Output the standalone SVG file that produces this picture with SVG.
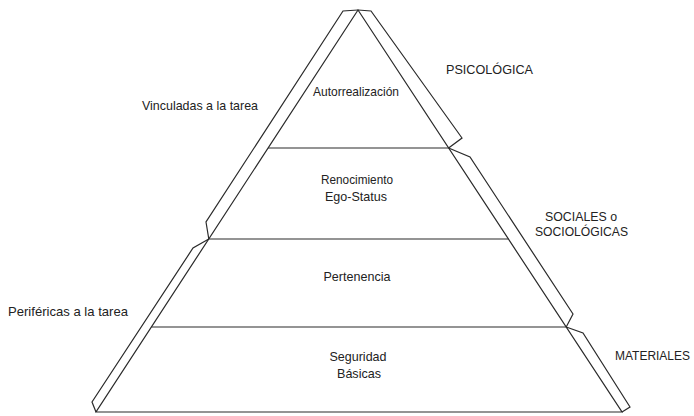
<svg xmlns="http://www.w3.org/2000/svg" width="694" height="416" viewBox="0 0 694 416">
<style>
.ln{fill:none;stroke:#2a2a2a;stroke-width:1.2;stroke-linejoin:miter}
.t{font-family:"Liberation Sans",Arial,sans-serif;font-size:13.5px;fill:#222}
.c{text-anchor:middle}
</style>
<rect width="694" height="416" fill="#fff"/>
<g id="pyramid">
<path class="ln" d="M358,10 L96,412 L622,412 Z"/>
</g>
<g id="connectors">
<line class="ln" x1="268.1" y1="148" x2="448.6" y2="148"/>
<line class="ln" x1="208.8" y1="239" x2="508.4" y2="239"/>
<line class="ln" x1="151.4" y1="327" x2="566.2" y2="327"/>
<path class="ln" d="M358,10 L343,11 L206,222 L208.8,239"/>
<path class="ln" d="M208.8,239 L193,248 L92,402 L96,412"/>
<path class="ln" d="M358,10 L371,11 L462,138 L448.6,148"/>
<path class="ln" d="M448.6,148 L470,157 L573,314 L566.2,327"/>
<path class="ln" d="M566.2,327 L583,333 L630,407 L622,412"/>
</g>
<g id="level-autorrealizacion">
<text class="t c" x="356" y="96" textLength="86" lengthAdjust="spacingAndGlyphs">Autorrealización</text>
</g>
<g id="level-ego">
<text class="t c" x="357" y="184" textLength="72" lengthAdjust="spacingAndGlyphs">Renocimiento</text>
<text class="t c" x="356" y="201" textLength="62" lengthAdjust="spacingAndGlyphs">Ego-Status</text>
</g>
<g id="level-pertenencia">
<text class="t c" x="357" y="281" textLength="67" lengthAdjust="spacingAndGlyphs">Pertenencia</text>
</g>
<g id="level-seguridad">
<text class="t c" x="358" y="361" textLength="57" lengthAdjust="spacingAndGlyphs">Seguridad</text>
<text class="t c" x="359" y="378" textLength="44" lengthAdjust="spacingAndGlyphs">Básicas</text>
</g>
<g id="label-vinculadas">
<text class="t" x="142" y="110" textLength="116" lengthAdjust="spacingAndGlyphs">Vinculadas a la tarea</text>
</g>
<g id="label-perifericas">
<text class="t" x="8" y="316" textLength="120" lengthAdjust="spacingAndGlyphs">Periféricas a la tarea</text>
</g>
<g id="label-psicologica">
<text class="t" x="446" y="74" textLength="87" lengthAdjust="spacingAndGlyphs">PSICOLÓGICA</text>
</g>
<g id="label-sociales">
<text class="t c" x="581" y="221" textLength="72" lengthAdjust="spacingAndGlyphs">SOCIALES o</text>
<text class="t c" x="581.5" y="236" textLength="93" lengthAdjust="spacingAndGlyphs">SOCIOLÓGICAS</text>
</g>
<g id="label-materiales">
<text class="t" x="615" y="360" style="font-size:12.5px" textLength="75" lengthAdjust="spacingAndGlyphs">MATERIALES</text>
</g>
</svg>
